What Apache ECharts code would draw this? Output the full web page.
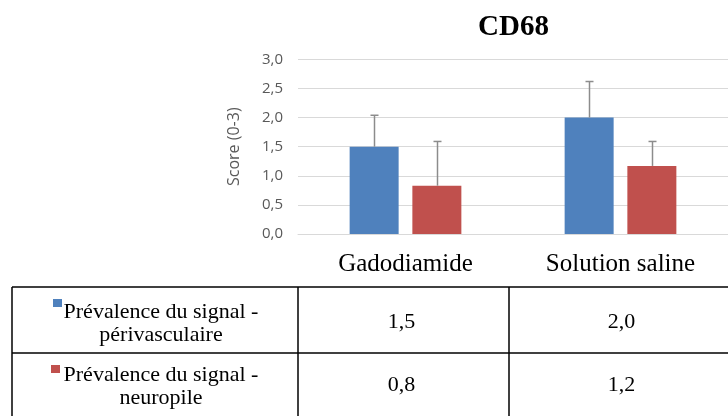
<!DOCTYPE html>
<html>
<head>
<meta charset="utf-8">
<script src="https://cdn.jsdelivr.net/npm/echarts@6/dist/echarts.min.js"></script>
<style>
  html, body { margin: 0; padding: 0; background: #fff; }
  #main { width: 728px; height: 416px; }
</style>
</head>
<body>
<div id="main"></div>
<script>
// données
var categories = ['Gadodiamide', 'Solution saline'];
var seriesNames = ['Prévalence du signal -\npérivasculaire', 'Prévalence du signal -\nneuropile'];
var perivasculaire = [1.5, 2.0];
var neuropile = [0.83, 1.17];
var errPeri = [0.54, 0.62];
var errNeuro = [0.76, 0.42];
var yTicks = [0, 0.5, 1, 1.5, 2, 2.5, 3];

var colors = ['#4f81bd', '#c0504d'];
var barW = 49;
var gapRatio = 0.28;

function fmt(v) { return v.toFixed(1).replace('.', ','); }

function errorSeries(vals, errs, idx) {
  return {
    type: 'custom',
    silent: true,
    z: 3,
    data: vals.map(function (v, i) { return [i, v, v + errs[i]]; }),
    renderItem: function (params, api) {
      var off = (idx === 0 ? -1 : 1) * (barW * (1 + gapRatio)) / 2;
      var base = api.coord([api.value(0), api.value(1)]);
      var top = api.coord([api.value(0), api.value(2)]);
      var x = Math.round(base[0] + off) + 0.5;
      var st = { stroke: '#8c8c8c', lineWidth: 1.5 };
      return {
        type: 'group',
        children: [
          { type: 'line', shape: { x1: x, y1: base[1], x2: x, y2: top[1] }, style: st },
          { type: 'line', shape: { x1: x - 4, y1: top[1], x2: x + 4, y2: top[1] }, style: st }
        ]
      };
    }
  };
}

// tableau sous le graphique
var tableTop = 287, rowSep = 353, tableBottom = 417;
var colX = [12, 298, 509, 738];
var rowMid = [323.5, 386.5];
var serif = 'Liberation Serif';
var graphics = [];
function hline(y) {
  graphics.push({ type: 'line', shape: { x1: colX[0], y1: y, x2: 728, y2: y }, style: { stroke: '#000', lineWidth: 1.5 } });
}
function vline(x) {
  graphics.push({ type: 'line', shape: { x1: x, y1: tableTop, x2: x, y2: tableBottom }, style: { stroke: '#000', lineWidth: 1.5 } });
}
hline(tableTop); hline(rowSep);
vline(colX[0]); vline(colX[1]); vline(colX[2]);

var rows = [perivasculaire, neuropile];
rows.forEach(function (vals, r) {
  graphics.push({
    type: 'rect',
    shape: { x: r === 0 ? 53 : 51, y: r === 0 ? 299 : 365, width: 9, height: 8 },
    style: { fill: colors[r] }
  });
  graphics.push({
    type: 'text', x: 161, y: rowMid[r],
    style: {
      text: seriesNames[r], fill: '#000', font: '22px ' + serif,
      align: 'center', verticalAlign: 'middle', lineHeight: 23
    }
  });
  vals.forEach(function (v, c) {
    graphics.push({
      type: 'text', x: (colX[c + 1] + colX[c + 2]) / 2 - 2, y: rowMid[r] - 1,
      style: { text: fmt(v), fill: '#000', font: '22px ' + serif, align: 'center', verticalAlign: 'middle' }
    });
  });
});

var myChart = echarts.init(document.getElementById('main'));

option = {
  backgroundColor: '#fff',
  animation: false,
  title: {
    text: 'CD68',
    left: 473,
    top: 8,
    textStyle: { fontFamily: serif, fontSize: 29, fontWeight: 'bold', color: '#000' }
  },
  grid: { left: 298, right: -7, top: 59.4, bottom: 182 },
  xAxis: {
    type: 'category',
    data: categories,
    axisLine: { lineStyle: { color: '#d9d9d9' } },
    axisTick: { show: false },
    axisLabel: { fontFamily: serif, fontSize: 25, color: '#000', margin: 18 }
  },
  yAxis: {
    type: 'value',
    min: yTicks[0],
    max: yTicks[yTicks.length - 1],
    interval: 0.5,
    name: 'Score (0-3)',
    nameLocation: 'middle',
    nameGap: 56,
    nameTextStyle: { fontFamily: 'Open Sans', fontSize: 16, color: '#595959' },
    axisLine: { show: false },
    axisTick: { show: false },
    splitLine: { lineStyle: { color: '#d9d9d9', width: 1 } },
    axisLabel: {
      fontFamily: 'Open Sans', fontSize: 15, color: '#595959', margin: 15,
      formatter: function (v) { return fmt(v); }
    }
  },
  series: [
    { type: 'bar', name: seriesNames[0], data: perivasculaire, barWidth: barW, barGap: (gapRatio * 100) + '%', itemStyle: { color: colors[0] } },
    { type: 'bar', name: seriesNames[1], data: neuropile, barWidth: barW, barGap: (gapRatio * 100) + '%', itemStyle: { color: colors[1] } },
    errorSeries(perivasculaire, errPeri, 0),
    errorSeries(neuropile, errNeuro, 1)
  ],
  graphic: graphics
};

myChart.setOption(option);
</script>
</body>
</html>
